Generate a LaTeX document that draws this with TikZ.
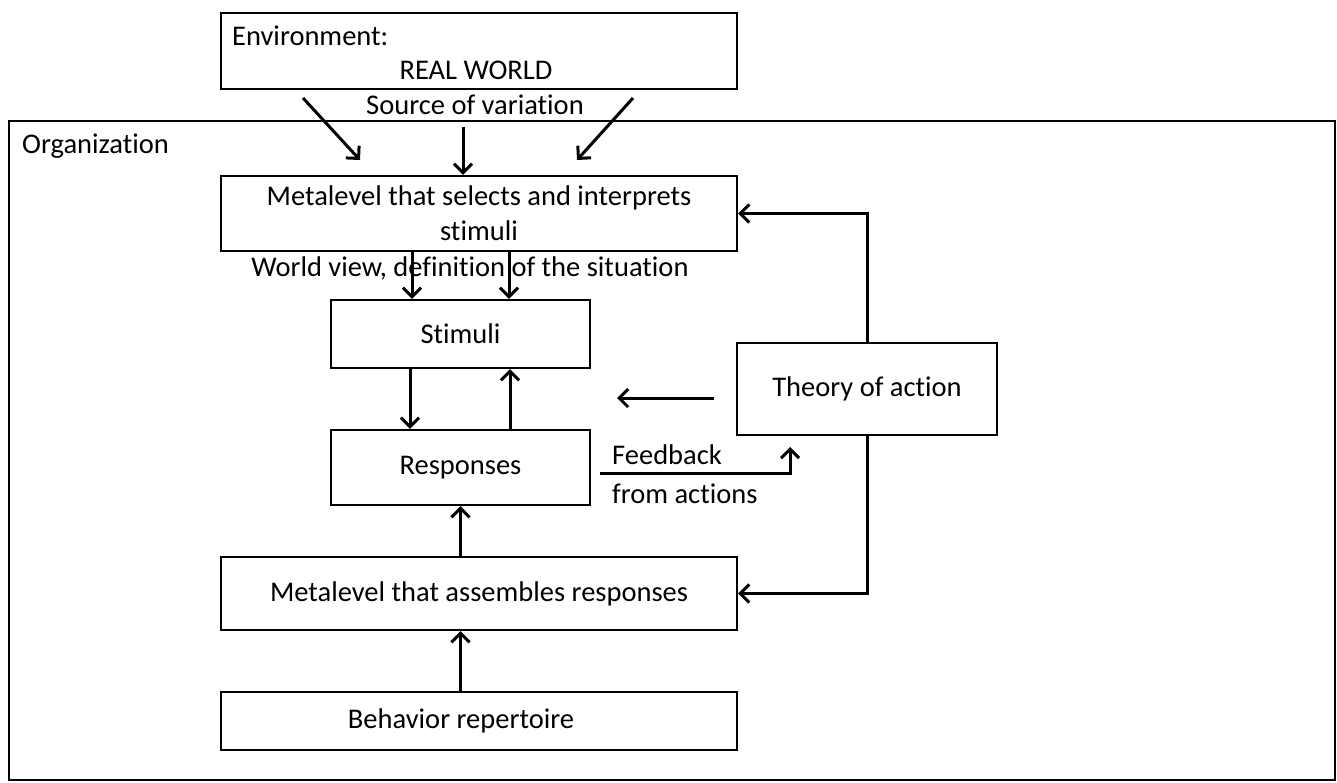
\documentclass[tikz,border=0pt]{standalone}
\usepackage{fontspec}
\setmainfont{Carlito}[Ligatures=NoCommon]
\usetikzlibrary{positioning, arrows.meta}

\begin{document}
\begin{tikzpicture}[x=1pt, y=-1pt,
    box/.style={rectangle, draw, line width=2.4pt, align=center, inner sep=0pt},
    lbl/.style={inner sep=0pt, align=left},
    arrow/.style={-{Straight Barb[length=9pt, width=18pt]}, line width=3pt},
    font=\fontsize{28.5}{35}\selectfont
]
    \useasboundingbox (0,0) rectangle (1337,782);

    % Organization frame
    \node[box, minimum width=1326, minimum height=659] (org) at (672,450.5) {};
    \node[lbl, anchor=west] (orglbl) at (22,146) {Organization};

    % Environment
    \node[box, minimum width=516, minimum height=76] (env) at (479,51) {};
    \node[lbl, anchor=west] (envlbl) at (232,36) {Environment:};
    \node[lbl] (realw) at (476,70) {REAL WORLD};
    \node[lbl] (source) at (475,105) {Source of variation};

    % Boxes
    \node[box, minimum width=516, minimum height=75] (metasel) at (479,213.5) {Metalevel that selects and interprets\\stimuli};
    \node[lbl] (worldview) at (470,268) {World view, definition of the situation};
    \node[box, minimum width=259, minimum height=68] (stim) at (460.5,334) {Stimuli};
    \node[box, minimum width=259, minimum height=75] (resp) at (460.5,467.5) {Responses};
    \node[box, minimum width=516, minimum height=73] (metasm) at (479,593.5) {Metalevel that assembles responses};
    \node[box, minimum width=516, minimum height=58] (repert) at (479,721) {Behavior repertoire\hspace*{36pt}};
    \node[box, minimum width=260, minimum height=92] (theory) at (867,389) {Theory of action};

    % Free ends
    \coordinate (srcL) at (303,98);
    \coordinate (tipL) at (360,160);
    \coordinate (srcR) at (633,98);
    \coordinate (tipR) at (577,160);
    \coordinate (srcM) at (463,127);
    \coordinate (wvL) at (412,0);
    \coordinate (wvR) at (509,0);
    \coordinate (sdn) at (410,0);
    \coordinate (rup) at (510,0);
    \coordinate (thA) at (714,398);
    \coordinate (thB) at (617,398);
    \coordinate (fbA) at (600,473);
    \coordinate (fbB) at (790,447);

    % Arrows
    \draw[arrow] (srcL) -- (tipL);
    \draw[arrow] (srcR) -- (tipR);
    \draw[arrow] (srcM) -- (srcM |- metasel.north);
    \draw[arrow] (wvL |- metasel.south) -- (wvL |- stim.north);
    \draw[arrow] (wvR |- metasel.south) -- (wvR |- stim.north);
    \draw[arrow] (sdn |- stim.south) -- (sdn |- resp.north);
    \draw[arrow] (rup |- resp.north) -- (rup |- stim.south);
    \draw[arrow] (resp.south |- metasm.north) -- (resp.south);
    \draw[arrow] (resp.south |- repert.north) -- (resp.south |- metasm.south);
    \draw[arrow] (thA) -- (thB);
    \draw[arrow] (theory.north) |- (metasel.east);
    \draw[arrow] (theory.south) |- (metasm.east);
    \draw[arrow] (fbA) -| (fbB);
    \node[lbl, anchor=west] (fb1) at (612,455) {Feedback};
    \node[lbl, anchor=west] (fb2) at (612,494) {from actions};
\end{tikzpicture}
\end{document}
